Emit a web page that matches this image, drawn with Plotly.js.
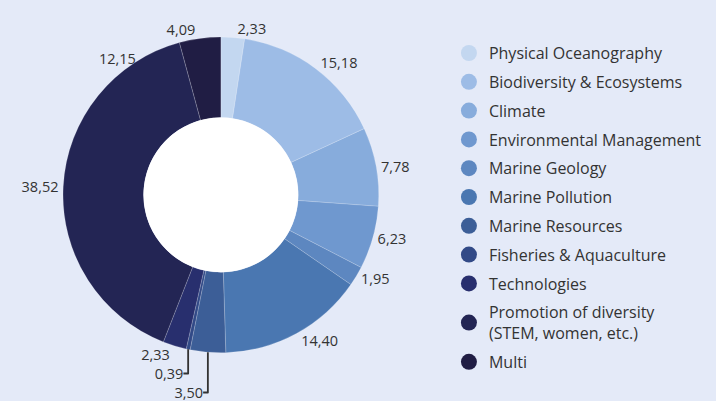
<!DOCTYPE html>
<html>
<head>
<meta charset="utf-8">
<script src="https://cdn.plot.ly/plotly-3.0.1.min.js"></script>
<style>html,body{margin:0;padding:0;background:#e4eaf8;}#chart{width:716px;height:401px;}</style>
</head>
<body>
<div id="chart"></div>
<script>
var categories = ["Physical Oceanography", "Biodiversity & Ecosystems", "Climate", "Environmental Management", "Marine Geology", "Marine Pollution", "Marine Resources", "Fisheries & Aquaculture", "Technologies", "Promotion of diversity<br>(STEM, women, etc.)", "Multi"];
var values = [2.33, 15.18, 7.78, 6.23, 1.95, 14.40, 3.50, 0.39, 2.33, 38.52, 4.09];
var colors = ["#c3d7f0", "#9dbce6", "#87acdc", "#6f98cf", "#5d87c0", "#4a77b1", "#3c5e97", "#324a87", "#282f6e", "#232554", "#201d44"];
var extraLabel = "12,15";

var W = 716, H = 401;
var dom = {x: [0.088, 0.529], y: [0.12, 0.908]};
var holeFrac = 0.49;

var traces = [{
  type: "pie",
  labels: categories,
  values: values,
  sort: false,
  direction: "clockwise",
  rotation: 0,
  hole: holeFrac,
  showlegend: false,
  marker: {colors: colors, line: {color: "rgba(255,255,255,0.3)", width: 0.6}},
  textinfo: "value",
  texttemplate: "%{value:.2f}",
  textposition: "outside",
  outsidetextfont: {family: "Open Sans, sans-serif", size: 14.5, color: "#333333"},
  domain: dom,
  automargin: false,
  hoverinfo: "label+value"
}];

categories.forEach(function (c, i) {
  traces.push({
    type: "scatter",
    mode: "markers",
    x: [null], y: [null],
    name: c,
    legendgroup: "g" + i,
    marker: {color: colors[i], size: 17, symbol: "circle"},
    showlegend: true,
    hoverinfo: "skip"
  });
});

// white disc filling the donut hole
var cx = (dom.x[0] + dom.x[1]) / 2, cy = (dom.y[0] + dom.y[1]) / 2;
var rPx = Math.min((dom.x[1] - dom.x[0]) * W, (dom.y[1] - dom.y[0]) * H) / 2 * holeFrac;

var layout = {
  width: W, height: H,
  margin: {l: 0, r: 0, t: 0, b: 0},
  paper_bgcolor: "#e4eaf8",
  plot_bgcolor: "#e4eaf8",
  separators: ", ",
  font: {family: "Open Sans, sans-serif", color: "#333333"},
  xaxis: {visible: false, domain: [0.6, 0.61]},
  yaxis: {visible: false},
  legend: {
    x: 0.627, y: 0.91, xanchor: "left", yanchor: "top",
    bgcolor: "rgba(0,0,0,0)",
    font: {family: "Open Sans, sans-serif", size: 16, color: "#333333"},
    traceorder: "grouped",
    tracegroupgap: 5,
    itemsizing: "trace"
  },
  shapes: [{
    type: "circle", xref: "paper", yref: "paper", layer: "above",
    x0: cx - rPx / W, x1: cx + rPx / W, y0: cy - rPx / H, y1: cy + rPx / H,
    fillcolor: "#ffffff", line: {width: 0}
  }],
  annotations: [{
    text: extraLabel, xref: "paper", yref: "paper",
    x: 0.135, y: 0.882, showarrow: false,
    font: {family: "Open Sans, sans-serif", size: 14.5, color: "#333333"}
  }]
};

Plotly.newPlot("chart", traces, layout, {displayModeBar: false, staticPlot: true});
</script>
</body>
</html>
